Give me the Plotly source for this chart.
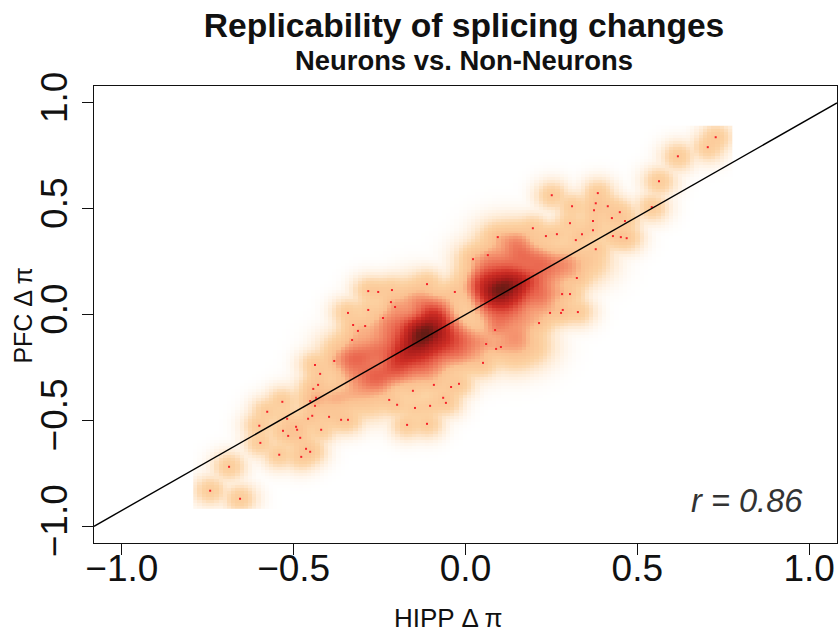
import numpy as np
import plotly.graph_objects as go

# Outlying points drawn in red (HIPP dpi, PFC dpi)
dot_x = [-0.283,-0.254,-0.214,-0.112,-0.031,-0.217,-0.205,-0.283,-0.342,-0.240,-0.327,-0.292,-0.313,-0.330,0.060,0.051,
         -0.382,-0.438,-0.423,-0.429,-0.443,-0.435,-0.452,-0.438,-0.533,-0.577,-0.519,-0.458,-0.446,-0.397,-0.362,-0.342,
         -0.600,-0.493,-0.490,-0.531,-0.420,-0.516,-0.481,-0.597,-0.464,-0.452,-0.542,-0.478,-0.688,-0.743,-0.656,
         -0.153,-0.092,-0.042,-0.019,-0.222,-0.199,-0.147,-0.103,-0.065,-0.057,-0.170,-0.112,
         0.728,0.705,0.618,0.563,0.542,0.251,0.385,0.379,0.310,0.414,0.374,0.449,0.426,0.464,0.371,0.304,0.371,0.196,
         0.339,0.266,0.234,0.094,0.429,0.452,0.469,0.321,0.379,0.065,0.022,0.324,0.281,0.304,0.283,0.246,0.278,0.327,
         0.214,0.086,0.103,0.089]
dot_y = [0.111,0.107,0.116,0.144,0.107,0.059,0.036,0.022,0.008,-0.016,-0.049,-0.054,-0.077,-0.120,-0.139,-0.228,
         -0.219,-0.238,-0.280,-0.332,-0.351,-0.393,-0.408,-0.431,-0.412,-0.459,-0.492,-0.492,-0.478,-0.483,-0.497,-0.497,
         -0.525,-0.530,-0.544,-0.549,-0.544,-0.573,-0.582,-0.606,-0.634,-0.648,-0.662,-0.672,-0.719,-0.832,-0.870,
         -0.360,-0.332,-0.342,-0.327,-0.403,-0.426,-0.441,-0.431,-0.393,-0.417,-0.521,-0.516,
         0.838,0.791,0.748,0.630,0.508,0.564,0.574,0.526,0.512,0.512,0.493,0.484,0.456,0.442,0.442,0.432,0.399,0.408,
         0.380,0.380,0.371,0.366,0.371,0.366,0.361,0.352,0.309,0.281,0.262,0.173,0.097,0.097,0.022,0.008,0.008,0.012,
         -0.040,-0.073,-0.153,-0.162]

# Unplotted dense mass in the two core clusters, estimated from the shading
core_x = [-0.115,-0.09,-0.14,-0.17,-0.20,-0.07,-0.16,-0.11,-0.05,-0.10,-0.13,-0.20,-0.25,-0.30,-0.34,-0.27,-0.25,-0.30,
          -0.38,-0.18,-0.08,-0.01,0.0,-0.14,-0.20,
          -0.22,-0.25,-0.30,-0.35,-0.22,-0.33,-0.33,-0.28,-0.05,-0.03,-0.12,-0.06,-0.17,-0.43,
          0.11,0.07,0.15,0.10,0.05,0.15,0.19,0.12,0.07,0.06,0.13,0.21,0.16,0.15,0.23,0.29,0.03,0.09,0.15,0.14,0.04,0.03,0.21,0.25,
          0.05,0.10,0.20,0.25,0.22,0.10,0.17,0.18,0.30,0.35,0.10,0.12]
core_y = [-0.08,-0.02,-0.13,-0.18,-0.22,-0.10,-0.06,0.03,-0.15,-0.17,-0.22,-0.12,-0.17,-0.20,-0.22,-0.28,-0.33,-0.33,
          -0.40,-0.28,-0.25,-0.11,-0.18,0.08,0.0,
          -0.05,-0.08,-0.12,-0.18,-0.27,-0.28,-0.38,-0.40,-0.05,-0.20,-0.28,0.05,0.05,-0.40,
          0.13,0.10,0.15,0.07,0.16,0.08,0.17,0.20,0.20,0.03,0.02,0.11,0.27,0.34,0.24,0.25,0.12,-0.05,-0.10,-0.17,-0.13,-0.2,0.02,0.10,
          0.25,0.27,0.27,0.18,0.07,-0.02,-0.03,-0.15,0.20,0.25,0.35,-0.12]
core_w = [20,11,16,11,7,9,8,5,5,8,5,5,5,5,4,5,4,2.5,3,4,2.5,5,2,2.5,2.5,
          3,2.5,2,2,4,3,2,1.5,4,3,3,2.5,2,1,
          18,11,11,10,7,7,6,6,4,4,4,3,5,5,5,3.5,3,3,3,2,3,1.5,2,2,
          2.5,3,3,3,3,3,3,1.5,2,1.5,1.5,1.5]

line_x = [-1.081, 1.081]
line_y = [-1.0, 1.0]

tick_vals = [-1.0, -0.5, 0.0, 0.5, 1.0]
DOT_BW_X, DOT_BW_Y = 0.019, 0.027
CORE_BW_X, CORE_BW_Y = 0.03, 0.04
X_MIN, X_MAX, Y_MIN, Y_MAX = -0.786, 0.769, -0.912, 0.885

gx = np.linspace(X_MIN, X_MAX, 128)
gy = np.linspace(Y_MIN, Y_MAX, 128)


def kde(px, py, pw, bx, by):
    px, py, pw = np.array(px), np.array(py), np.array(pw, dtype=float)
    kx = np.exp(-0.5 * ((gx[None, :] - px[:, None]) / bx) ** 2)
    ky = np.exp(-0.5 * ((gy[None, :] - py[:, None]) / by) ** 2)
    return np.einsum("p,pi,pj->ij", pw, ky, kx)


dens = kde(dot_x, dot_y, [1.0] * len(dot_x), DOT_BW_X, DOT_BW_Y) + kde(core_x, core_y, core_w, CORE_BW_X, CORE_BW_Y)
z = (dens / dens.max()) ** 0.25

colorscale = [[0.0, "#FFFFFF"], [0.10, "#FFF4E8"], [0.20, "#FEE8CF"], [0.28, "#FDDBB5"], [0.36, "#FCD2A2"], [0.54, "#FBC292"],
              [0.63, "#F59570"], [0.73, "#E8604A"], [0.82, "#CF2E25"], [0.92, "#A81C1A"], [1.0, "#641B14"]]

fig = go.Figure()
fig.add_trace(go.Heatmap(x=gx, y=gy, z=z, colorscale=colorscale, zmin=0, zmax=1, showscale=False,
                         zsmooth=False, hoverinfo="skip"))
fig.add_trace(go.Scatter(x=dot_x, y=dot_y, mode="markers",
                         marker=dict(color="#F5222A", size=2, symbol="square", line=dict(width=0)), showlegend=False))
fig.add_trace(go.Scatter(x=line_x, y=line_y, mode="lines", line=dict(color="black", width=1.4), showlegend=False))

FONT = "Liberation Sans, Helvetica, Arial, sans-serif"
axis_common = dict(tickmode="array", tickvals=tick_vals, tickformat=".1f", ticks="outside", ticklen=11, tickwidth=1,
                   tickcolor="#111", showline=True, linecolor="#111", linewidth=1.2, mirror=True, showgrid=False,
                   zeroline=False, automargin=False, tickfont=dict(family=FONT, size=37, color="#111"))
PLOT_W, PLOT_H = 744.0, 457.6
fig.update_layout(
    width=839, height=634, autosize=False, plot_bgcolor="white", paper_bgcolor="white", showlegend=False,
    margin=dict(l=93.5, r=1.5, t=85.7, b=90.7, autoexpand=False),
    font=dict(family=FONT, color="#111"),
    title=dict(text="<b>Replicability of splicing changes</b>", x=464 / 839, xanchor="center", y=1 - 25 / 634, yanchor="middle",
               font=dict(family=FONT, size=33.6, color="#111")),
    xaxis=dict(range=[-1.081, 1.081], ticklabelstandoff=-19, **axis_common),
    yaxis=dict(range=[-1.079, 1.08], tickangle=-90, **axis_common),
    annotations=[
        dict(text="<b>Neurons vs. Non-Neurons</b>", xref="paper", yref="paper", x=0.4975, y=1 + 25.5 / PLOT_H, xanchor="center", yanchor="middle",
             showarrow=False, font=dict(family=FONT, size=27.4, color="#111")),
        dict(text="<i>r = 0.86</i>", xref="x", yref="y", x=0.82, y=-0.88, xanchor="center", yanchor="middle",
             showarrow=False, font=dict(family=FONT, size=32.6, color="#333")),
        dict(text="HIPP Δ π", xref="paper", yref="paper", x=(448 - 93.5) / PLOT_W, y=-(618 - 543.3) / PLOT_H, xanchor="center", yanchor="middle",
             showarrow=False, font=dict(family=FONT, size=26, color="#111")),
        dict(text="PFC Δ π", xref="paper", yref="paper", x=-(93.5 - 22) / PLOT_W, y=(543.3 - 316) / PLOT_H, xanchor="center", yanchor="middle",
             textangle=-90, showarrow=False, font=dict(family=FONT, size=25, color="#111")),
    ],
)
fig.write_html("out.html", config={"displayModeBar": False},
               post_script="document.body.style.margin='0';document.documentElement.style.overflow='hidden';")
